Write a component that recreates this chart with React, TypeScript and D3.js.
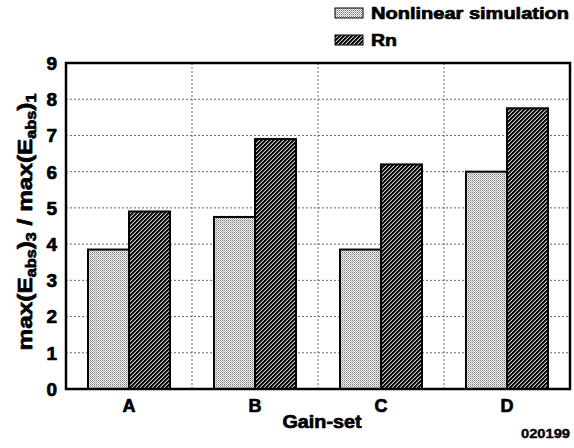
import React from "react";
import * as d3 from "d3";

// Peak-field ratio per gain set, two estimates each
const categories = ["A", "B", "C", "D"];
const seriesNames = ["Nonlinear simulation", "Rn"];
const nonlinearValues = [3.85, 4.75, 3.85, 6.0];
const rnValues = [4.9, 6.9, 6.2, 7.75];
const yTicks = [0, 1, 2, 3, 4, 5, 6, 7, 8, 9];

const W = 574;
const H = 448;
const plot = { left: 66, top: 63, right: 570, bottom: 389 };
const FONT = "'Liberation Sans', Arial, Helvetica, sans-serif";

// heavy sans text, thickened with a thin outline
const heavy = {
  fontFamily: FONT,
  fontWeight: "bold" as const,
  fill: "#000",
  stroke: "#000",
  strokeWidth: 0.7,
  strokeLinejoin: "round" as const,
};

export default function App() {
  const x0 = d3.scaleBand<string>().domain(categories).range([plot.left, plot.right]).padding(0);
  const x1 = d3
    .scaleBand<string>()
    .domain(seriesNames)
    .range([0, x0.bandwidth()])
    .paddingInner(0)
    .paddingOuter(0.537);
  const y = d3.scaleLinear().domain([0, 9]).range([plot.bottom, plot.top]);

  const fills = ["url(#stipple)", "url(#hatch)"];
  const seriesValues = [nonlinearValues, rnValues];

  const gridY = yTicks.filter((t) => t > 0 && t < 9);
  const gridX = categories.slice(1).map((c) => x0(c) as number);

  // 4x4 dark dither for the Rn bars
  const hatchCells = d3.range(16).map((i) => {
    const px = i % 4;
    const py = Math.floor(i / 4);
    const k = (px + py) % 4;
    const c = k === 0 || k === 1 ? "#000" : k === 2 ? "#5a5a5a" : "#c8c8c8";
    return { px, py, c };
  });

  return (
    <svg
      width={W}
      height={H}
      viewBox={`0 0 ${W} ${H}`}
      style={{ position: "absolute", left: 0, top: 0, background: "#fff" }}
    >
      <defs>
        <pattern id="stipple" width={2} height={2} patternUnits="userSpaceOnUse">
          <rect width={2} height={2} fill="#f2f2f2" />
          <rect x={0} y={0} width={1} height={1} fill="#7a7a7a" />
          <rect x={1} y={1} width={1} height={1} fill="#b4b4b4" />
        </pattern>
        <pattern id="hatch" width={4} height={4} patternUnits="userSpaceOnUse">
          {hatchCells.map((h, i) => (
            <rect key={i} x={h.px} y={h.py} width={1} height={1} fill={h.c} />
          ))}
        </pattern>
      </defs>

      {/* horizontal dotted grid */}
      {gridY.map((t) => (
        <line
          key={`gy${t}`}
          x1={plot.left}
          x2={plot.right}
          y1={y(t)}
          y2={y(t)}
          stroke="#666"
          strokeWidth={1}
          strokeDasharray="2,2"
        />
      ))}
      {/* vertical dotted grid between gain sets */}
      {gridX.map((gx, i) => (
        <line
          key={`gx${i}`}
          x1={gx}
          x2={gx}
          y1={plot.top}
          y2={plot.bottom}
          stroke="#666"
          strokeWidth={1}
          strokeDasharray="2,2"
        />
      ))}

      {/* bars */}
      {categories.map((c, ci) =>
        seriesNames.map((s, si) => {
          const v = seriesValues[si][ci];
          const bx = (x0(c) as number) + (x1(s) as number);
          return (
            <rect
              key={`${c}-${s}`}
              x={bx}
              y={y(v)}
              width={x1.bandwidth()}
              height={y(0) - y(v)}
              fill={fills[si]}
              stroke="#000"
              strokeWidth={2}
            />
          );
        })
      )}

      {/* frame */}
      <rect
        x={plot.left}
        y={plot.top}
        width={plot.right - plot.left}
        height={plot.bottom - plot.top}
        fill="none"
        stroke="#000"
        strokeWidth={2.5}
      />

      {/* y tick labels */}
      {yTicks.map((t) => (
        <text key={`yt${t}`} x={57} y={y(t)} dy="0.36em" textAnchor="end" fontSize={19} {...heavy}>
          {t}
        </text>
      ))}

      {/* category labels */}
      {categories.map((c) => (
        <text
          key={`xc${c}`}
          x={(x0(c) as number) + x0.bandwidth() / 2}
          y={412}
          textAnchor="middle"
          fontSize={18}
          {...heavy}
        >
          {c}
        </text>
      ))}

      {/* x axis title */}
      <text
        x={322}
        y={428}
        textAnchor="middle"
        fontSize={18}
        textLength={79}
        lengthAdjust="spacingAndGlyphs"
        {...heavy}
      >
        Gain-set
      </text>

      {/* y axis title */}
      <text
        transform="translate(32,222) rotate(-90)"
        textAnchor="middle"
        fontSize={21}
        textLength={257}
        lengthAdjust="spacingAndGlyphs"
        {...heavy}
      >
        max(E
        <tspan fontSize={14} dy={4}>abs</tspan>
        <tspan dy={-4}>)</tspan>
        <tspan fontSize={14} dy={4}>3</tspan>
        <tspan dy={-4}> / max(E</tspan>
        <tspan fontSize={14} dy={4}>abs</tspan>
        <tspan dy={-4}>)</tspan>
        <tspan fontSize={14} dy={4}>1</tspan>
      </text>

      {/* legend */}
      {seriesNames.map((s, si) => (
        <g key={`lg${s}`} transform={`translate(335,${8 + si * 27})`}>
          <rect x={0} y={0} width={28} height={10} fill={fills[si]} stroke="#000" strokeWidth={1} />
          <text
            x={36}
            y={10.5}
            fontSize={16}
            textLength={si === 0 ? 198 : 26}
            lengthAdjust="spacingAndGlyphs"
            {...heavy}
          >
            {s}
          </text>
        </g>
      ))}

      {/* figure id */}
      <text
        x={570}
        y={438}
        textAnchor="end"
        fontSize={13}
        textLength={49}
        lengthAdjust="spacingAndGlyphs"
        {...heavy}
        strokeWidth={0.4}
      >
        020199
      </text>
    </svg>
  );
}
